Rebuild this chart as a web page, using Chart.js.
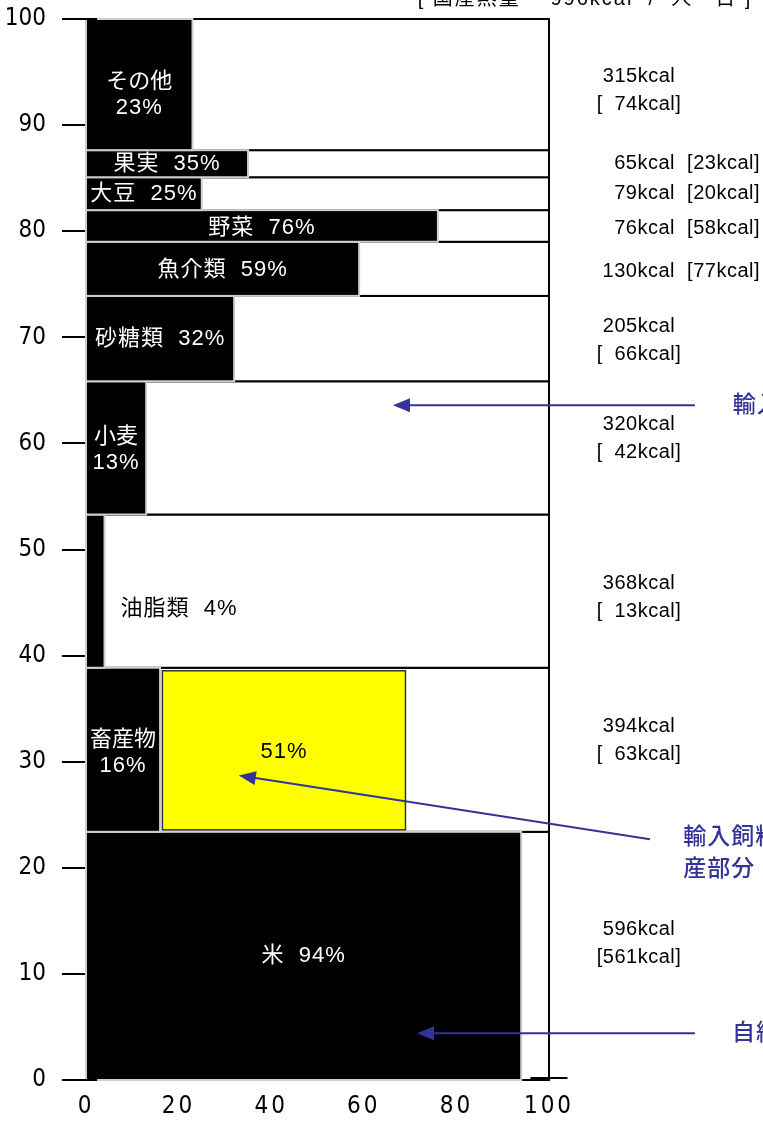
<!DOCTYPE html>
<html>
<head>
<meta charset="utf-8">
<script src="https://cdn.jsdelivr.net/npm/chart.js@4"></script>
<style>
  html, body { margin: 0; padding: 0; background: #fff; }
  #wrap { width: 763px; height: 1122px; }
</style>
</head>
<body>
<div id="wrap"><canvas id="chart"></canvas></div>
<script>
// 品目（下から順）
const categories = ['米', '畜産物', '油脂類', '小麦', '砂糖類', '魚介類', '野菜', '大豆', '果実', 'その他'];
// 供給熱量 kcal/人・日
const supplyKcal = [596, 394, 368, 320, 205, 130, 76, 79, 65, 315];
// うち国産熱量 kcal
const domesticKcal = [561, 63, 13, 42, 66, 77, 58, 20, 23, 74];
// 品目別カロリー自給率 %
const selfRate = [94, 16, 4, 13, 32, 59, 76, 25, 35, 23];
// 畜産物のうち輸入飼料による生産部分
const feedRange = [16.5, 69];
const feedLabel = 51;
const domesticTotal = 996;
const xTicks = [0, 20, 40, 60, 80, 100];
const yTicks = [0, 10, 20, 30, 40, 50, 60, 70, 80, 90, 100];

const total = supplyKcal.reduce((a, b) => a + b, 0);
const bounds = [];
let acc = 0;
supplyKcal.forEach(v => { const lo = acc; acc += v / total * 100; bounds.push([lo, acc]); });

const JP = "'Liberation Sans', 'Noto Sans CJK JP', sans-serif";
const BLUE = '#333399';
const stacked = new Set(['畜産物', '小麦', 'その他']);
const kcalOneLine = new Set(['魚介類', '野菜', '大豆', '果実']);
const innerNudge = [0, 3, 18, 2, 0, 1, 1.5, 0, 0, 10];
const kcalNudge = [-12, -9, 6, -9, 2, 3, 2.5, 0, 0, 6];

const notes = [
  { text: ['輸入部分'], tail: [131.5, 63.6], tip: [66.3, 63.6], at: [139.7, 63.6] },
  { text: ['輸入飼料による生', '産部分'], tail: [121.8, 22.7], tip: [33, 28.7], at: [129, 22.8] },
  { text: ['自給部分'], tail: [131.5, 4.4], tip: [71.5, 4.4], at: [139.5, 4.4] }
];

function txt(ctx, s, px, py, font, color, align, spacing) {
  ctx.font = font;
  ctx.fillStyle = color;
  ctx.textAlign = align || 'center';
  ctx.textBaseline = 'middle';
  ctx.letterSpacing = (spacing || 0) + 'px';
  ctx.fillText(s, px, py);
  ctx.letterSpacing = '0px';
}

function arrow(ctx, x1, y1, x2, y2) {
  const a = Math.atan2(y2 - y1, x2 - x1), L = 17, W = 7;
  ctx.beginPath();
  ctx.moveTo(x1, y1);
  ctx.lineTo(x2 - L * 0.8 * Math.cos(a), y2 - L * 0.8 * Math.sin(a));
  ctx.stroke();
  ctx.beginPath();
  ctx.moveTo(x2, y2);
  ctx.lineTo(x2 - L * Math.cos(a) + W * Math.sin(a), y2 - L * Math.sin(a) - W * Math.cos(a));
  ctx.lineTo(x2 - L * Math.cos(a) - W * Math.sin(a), y2 - L * Math.sin(a) + W * Math.cos(a));
  ctx.closePath();
  ctx.fill();
}

const rowsPlugin = {
  id: 'rows',
  beforeDraw(chart) {
    const xs = chart.scales.x;
    if (!xs._spaced) {
      const orig = xs.drawLabels;
      xs.drawLabels = function (area) {
        this.ctx.save();
        this.ctx.letterSpacing = '3px';
        orig.call(this, area);
        this.ctx.restore();
      };
      xs._spaced = true;
    }
  },
  afterDatasetsDraw(chart) {
    const { ctx, scales: { x, y }, chartArea } = chart;
    const x0 = x.getPixelForValue(0), x100 = x.getPixelForValue(100);
    ctx.save();

    // 各品目の枠
    bounds.forEach(([lo, hi]) => {
      const t = y.getPixelForValue(hi), b = y.getPixelForValue(lo);
      ctx.fillStyle = '#fff';
      ctx.fillRect(x0, t, x100 - x0, b - t);
      ctx.strokeStyle = '#000';
      ctx.lineWidth = 2;
      ctx.strokeRect(x0, t, x100 - x0, b - t);
    });

    // 自給部分（黒）
    bounds.forEach(([lo, hi], i) => {
      const t = y.getPixelForValue(hi), b = y.getPixelForValue(lo);
      const xr = x.getPixelForValue(selfRate[i]);
      ctx.fillStyle = '#000';
      ctx.fillRect(x0, t, xr - x0, b - t);
      ctx.strokeStyle = '#cfcfcf';
      ctx.lineWidth = 2;
      ctx.strokeRect(x0, t, xr - x0, b - t);
    });

    // 輸入飼料による生産部分（黄）
    const li = categories.indexOf('畜産物');
    const ft = y.getPixelForValue(bounds[li][1]) + 3, fb = y.getPixelForValue(bounds[li][0]) - 2;
    const fl = x.getPixelForValue(feedRange[0]), fr = x.getPixelForValue(feedRange[1]);
    ctx.fillStyle = '#ffff00';
    ctx.fillRect(fl, ft, fr - fl, fb - ft);
    ctx.strokeStyle = '#333';
    ctx.lineWidth = 1.5;
    ctx.strokeRect(fl, ft, fr - fl, fb - ft);
    txt(ctx, feedLabel + '%', (fl + fr) / 2, (ft + fb) / 2 + 2, '22px ' + JP, '#000', 'center', 1);

    // 品目ラベル
    bounds.forEach(([lo, hi], i) => {
      const cy = (y.getPixelForValue(hi) + y.getPixelForValue(lo)) / 2 + innerNudge[i];
      const xr = x.getPixelForValue(selfRate[i]);
      const font = '22px ' + JP;
      if (selfRate[i] < 10) {
        txt(ctx, categories[i] + '  ' + selfRate[i] + '%', xr + 16, cy, font, '#000', 'left', 1);
      } else if (stacked.has(categories[i])) {
        txt(ctx, categories[i], (x0 + xr) / 2, cy - 13, font, '#fff', 'center', 0);
        txt(ctx, selfRate[i] + '%', (x0 + xr) / 2, cy + 13, font, '#fff', 'center', 1);
      } else {
        txt(ctx, categories[i] + '  ' + selfRate[i] + '%', (x0 + xr) / 2, cy, font, '#fff', 'center', 1);
      }

      // 右側の熱量
      const ky = (y.getPixelForValue(hi) + y.getPixelForValue(lo)) / 2 + kcalNudge[i];
      const kfont = '20px ' + JP;
      if (kcalOneLine.has(categories[i])) {
        txt(ctx, supplyKcal[i] + 'kcal  [' + domesticKcal[i] + 'kcal]', chartArea.right + 211, ky, kfont, '#000', 'right', 0.5);
      } else {
        const d = String(domesticKcal[i]).padStart(3, '\u2007');
        txt(ctx, supplyKcal[i] + 'kcal', chartArea.right + 90, ky - 14, kfont, '#000', 'center', 0.5);
        txt(ctx, '[' + d + 'kcal]', chartArea.right + 90, ky + 14, kfont, '#000', 'center', 0.5);
      }
    });

    // 目盛りの延長線
    ctx.strokeStyle = '#000';
    ctx.lineWidth = 2;
    ctx.beginPath();
    ctx.moveTo(x0 - 24, y.getPixelForValue(100)); ctx.lineTo(x.getPixelForValue(2.4), y.getPixelForValue(100));
    ctx.moveTo(x0 - 24, y.getPixelForValue(0)); ctx.lineTo(x.getPixelForValue(2.4), y.getPixelForValue(0));
    ctx.moveTo(x.getPixelForValue(96), y.getPixelForValue(0.2)); ctx.lineTo(x.getPixelForValue(104), y.getPixelForValue(0.2));
    ctx.stroke();

    // 注記
    ctx.strokeStyle = BLUE;
    ctx.fillStyle = BLUE;
    ctx.lineWidth = 2;
    notes.forEach(n => {
      arrow(ctx, x.getPixelForValue(n.tail[0]), y.getPixelForValue(n.tail[1]),
        x.getPixelForValue(n.tip[0]), y.getPixelForValue(n.tip[1]));
      n.text.forEach((s, k) => {
        txt(ctx, s, x.getPixelForValue(n.at[0]), y.getPixelForValue(n.at[1]) + k * 32,
          '500 23px ' + JP, BLUE, 'left', 1);
      });
    });

    // 見出し（上端）
    txt(ctx, '[ 国産熱量　 ' + domesticTotal + 'kcal  /  人・日 ]', 585, -1, '20px ' + JP, '#000', 'center', 2);
    ctx.restore();
  }
};

new Chart(document.getElementById('chart'), {
  type: 'scatter',
  data: { datasets: [{ data: [] }] },
  options: {
    responsive: true,
    maintainAspectRatio: false,
    animation: false,
    layout: { padding: { top: 19, right: 214, left: 0, bottom: 0 } },
    plugins: { legend: { display: false }, tooltip: { enabled: false } },
    scales: {
      x: {
        type: 'linear', min: 0, max: 100,
        afterBuildTicks: s => { s.ticks = xTicks.map(v => ({ value: v })); },
        afterFit: s => { s.height = 42; s.paddingLeft = 0; s.paddingRight = 0; },
        grid: { display: false, drawTicks: false },
        border: { display: false },
        ticks: { color: '#000', padding: 12, font: { family: "'Liberation Sans Narrow', 'DejaVu Sans Condensed', sans-serif", size: 24 } }
      },
      y: {
        type: 'linear', min: 0, max: 100,
        afterBuildTicks: s => { s.ticks = yTicks.map(v => ({ value: v })); },
        afterFit: s => { s.width = 86; s.paddingTop = 0; s.paddingBottom = 0; },
        grid: { drawOnChartArea: false, drawTicks: true, tickLength: 24, color: '#000', lineWidth: 2 },
        border: { display: false },
        ticks: { color: '#000', padding: 16, font: { family: "'Liberation Sans Narrow', 'DejaVu Sans Condensed', sans-serif", size: 24 } }
      }
    }
  },
  plugins: [rowsPlugin]
});
</script>
</body>
</html>
